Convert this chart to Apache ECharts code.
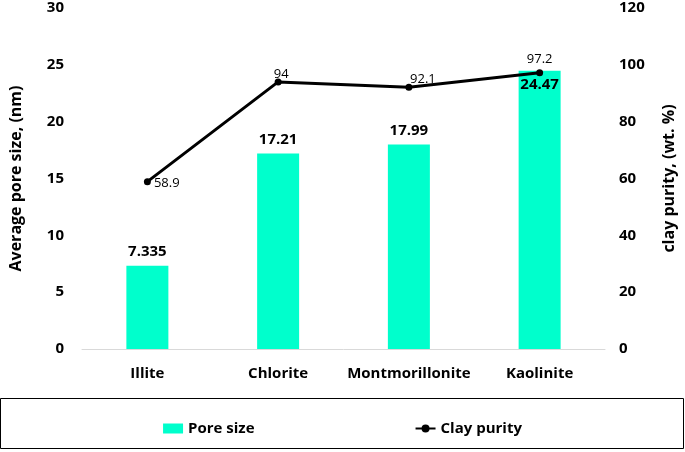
<!DOCTYPE html>
<html>
<head>
<meta charset="utf-8">
<script src="https://cdn.jsdelivr.net/npm/echarts@6/dist/echarts.min.js"></script>
<style>
  html, body { margin: 0; padding: 0; background: #fff; }
  #chart { width: 685px; height: 452px; }
</style>
</head>
<body>
<div id="chart"></div>
<script>
// clay types
var categories = ['Illite', 'Chlorite', 'Montmorillonite', 'Kaolinite'];
// average pore size, nm
var poreSize = [7.335, 17.21, 17.99, 24.47];
// clay purity, wt. %
var clayPurity = [58.9, 94, 92.1, 97.2];

var barLabelPos = ['top', 'top', 'top', 'insideTop'];
var lineLabelPos = ['right', 'top', 'top', 'top'];
var lineLabelOffset = [[0, 2], [3, 5], [14, 5], [0, 0]];

var font = '"Open Sans", "Noto Sans", sans-serif';
var chart = echarts.init(document.getElementById('chart'));

var option = {
    backgroundColor: '#fff',
    textStyle: { fontFamily: font },
    grid: { left: 78, right: 77, top: 8, bottom: 103 },
    legend: {
        left: 'center',
        top: 416,
        itemGap: 160,
        itemWidth: 20,
        itemHeight: 10,
        textStyle: { fontFamily: font, fontSize: 15, fontWeight: 'bold', color: '#000' },
        data: [
            { name: 'Pore size', icon: 'rect' },
            { name: 'Clay purity' }
        ]
    },
    graphic: [{
        type: 'rect',
        shape: { x: 0.5, y: 398.5, width: 683, height: 50 },
        style: { fill: 'none', stroke: '#000', lineWidth: 1 },
        silent: true
    }],
    xAxis: {
        type: 'category',
        data: categories,
        axisTick: { show: false },
        axisLine: { lineStyle: { color: '#d9d9d9', width: 1 } },
        axisLabel: { interval: 0, margin: 17, fontSize: 15, fontWeight: 'bold', color: '#000', fontFamily: font }
    },
    yAxis: [
        {
            type: 'value',
            min: 0, max: 30, interval: 5,
            name: 'Average pore size, (nm)',
            nameLocation: 'middle',
            nameGap: 58,
            nameTextStyle: { fontSize: 16, fontWeight: 'bold', color: '#000', fontFamily: font },
            splitLine: { show: false },
            axisLine: { show: false },
            axisTick: { show: false },
            axisLabel: { margin: 18, fontSize: 15, fontWeight: 'bold', color: '#000', fontFamily: font }
        },
        {
            type: 'value',
            min: 0, max: 120, interval: 20,
            name: 'clay purity, (wt. %)',
            nameLocation: 'middle',
            nameGap: 56,
            nameRotate: 90,
            nameTextStyle: { fontSize: 16, fontWeight: 'bold', color: '#000', fontFamily: font },
            splitLine: { show: false },
            axisLine: { show: false },
            axisTick: { show: false },
            axisLabel: { margin: 14, fontSize: 15, fontWeight: 'bold', color: '#000', fontFamily: font }
        }
    ],
    series: [
        {
            name: 'Pore size',
            type: 'bar',
            barWidth: 42,
            itemStyle: { color: '#00ffcc' },
            data: poreSize.map(function (v, i) {
                return { value: v, label: { position: barLabelPos[i] } };
            }),
            label: {
                show: true,
                distance: 6,
                fontSize: 15,
                fontWeight: 'bold',
                color: '#000',
                fontFamily: font
            }
        },
        {
            name: 'Clay purity',
            type: 'line',
            yAxisIndex: 1,
            symbol: 'circle',
            symbolSize: 7,
            lineStyle: { color: '#000', width: 3 },
            itemStyle: { color: '#000' },
            data: clayPurity.map(function (v, i) {
                return { value: v, label: { position: lineLabelPos[i], offset: lineLabelOffset[i] } };
            }),
            label: {
                show: true,
                distance: 3,
                fontSize: 13,
                color: '#000',
                fontFamily: font
            }
        }
    ]
};

chart.setOption(option);
</script>
</body>
</html>
